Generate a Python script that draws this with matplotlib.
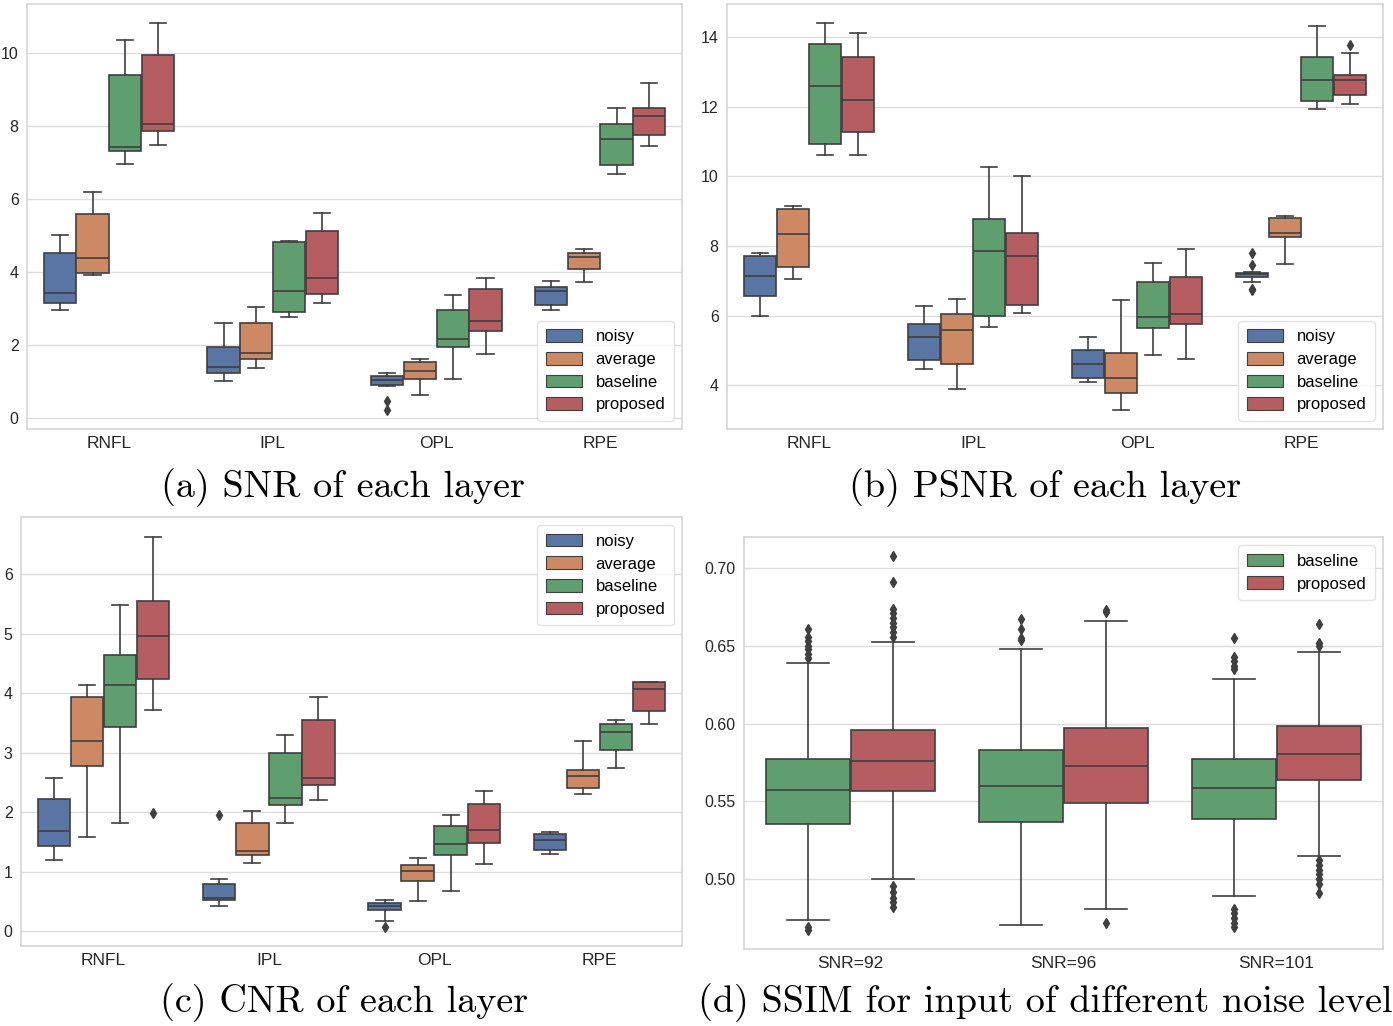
import colorsys
import matplotlib
matplotlib.use("Agg")
import matplotlib.pyplot as plt
import matplotlib.colors as mcolors
from matplotlib.patches import Patch

plt.rcParams['font.family'] = ['Liberation Sans', 'DejaVu Sans']

# ---- data ----
layers = ["RNFL", "IPL", "OPL", "RPE"]
methods = ["noisy", "average", "baseline", "proposed"]

# (a) SNR: per method, per layer: [whisker_low, q1, median, q3, whisker_high]
snr_noisy    = [[2.94, 3.14, 3.42, 4.51, 5.00], [1.00, 1.23, 1.39, 1.94, 2.60], [0.88, 0.90, 1.02, 1.15, 1.23], [2.96, 3.10, 3.47, 3.58, 3.74]]
snr_average  = [[3.90, 3.98, 4.37, 5.57, 6.18], [1.36, 1.62, 1.78, 2.60, 3.03], [0.61, 1.07, 1.27, 1.52, 1.62], [3.71, 4.07, 4.41, 4.51, 4.62]]
snr_baseline = [[6.96, 7.30, 7.43, 9.39, 10.35], [2.75, 2.89, 3.47, 4.82, 4.85], [1.05, 1.95, 2.16, 2.95, 3.37], [6.68, 6.93, 7.65, 8.04, 8.48]]
snr_proposed = [[7.48, 7.87, 8.05, 9.93, 10.81], [3.14, 3.40, 3.83, 5.11, 5.61], [1.75, 2.37, 2.65, 3.53, 3.82], [7.46, 7.74, 8.26, 8.48, 9.18]]
snr_fliers = {("noisy", 2): [0.47, 0.22]}

# (b) PSNR
psnr_noisy    = [[6.00, 6.58, 7.13, 7.72, 7.81], [4.47, 4.74, 5.38, 5.77, 6.29], [4.09, 4.22, 4.61, 5.01, 5.38], [6.96, 7.10, 7.20, 7.23, 7.25]]
psnr_average  = [[7.05, 7.39, 8.34, 9.07, 9.16], [3.89, 4.61, 5.59, 6.04, 6.49], [3.30, 3.79, 4.22, 4.93, 6.44], [7.48, 8.27, 8.39, 8.82, 8.87]]
psnr_baseline = [[10.62, 10.92, 12.60, 13.81, 14.40], [5.68, 6.00, 7.86, 8.77, 10.28], [4.86, 5.64, 5.96, 6.98, 7.52], [11.94, 12.17, 12.78, 13.44, 14.32]]
psnr_proposed = [[10.62, 11.29, 12.21, 13.44, 14.11], [6.09, 6.32, 7.72, 8.39, 10.00], [4.76, 5.77, 6.04, 7.10, 7.92], [12.08, 12.35, 12.78, 12.91, 13.54]]
psnr_fliers = {("noisy", 3): [7.79, 7.47, 6.78, 6.74], ("proposed", 3): [13.79]}

# (c) CNR
cnr_noisy    = [[1.19, 1.43, 1.69, 2.22, 2.58], [0.42, 0.52, 0.56, 0.80, 0.88], [0.18, 0.36, 0.42, 0.48, 0.53], [1.29, 1.36, 1.54, 1.63, 1.67]]
cnr_average  = [[1.58, 2.77, 3.19, 3.93, 4.13], [1.15, 1.28, 1.34, 1.82, 2.02], [0.50, 0.85, 1.01, 1.11, 1.23], [2.30, 2.40, 2.60, 2.71, 3.19]]
cnr_baseline = [[1.82, 3.43, 4.13, 4.64, 5.48], [1.81, 2.12, 2.24, 2.99, 3.29], [0.67, 1.28, 1.46, 1.77, 1.95], [2.75, 3.04, 3.34, 3.48, 3.55]]
cnr_proposed = [[3.72, 4.24, 4.96, 5.54, 6.63], [2.21, 2.45, 2.57, 3.55, 3.94], [1.13, 1.49, 1.70, 2.13, 2.35], [3.48, 3.70, 4.07, 4.18, 4.19]]
cnr_fliers = {("proposed", 0): [1.99], ("noisy", 1): [1.95], ("noisy", 2): [0.08]}

# (d) SSIM
snr_levels = ["SNR=92", "SNR=96", "SNR=101"]
ssim_methods = ["baseline", "proposed"]
ssim_baseline = [[0.4735, 0.5354, 0.557, 0.5775, 0.639], [0.4703, 0.5367, 0.560, 0.583, 0.648], [0.489, 0.5386, 0.5585, 0.5775, 0.6286]]
ssim_proposed = [[0.500, 0.5566, 0.5756, 0.596, 0.6528], [0.481, 0.549, 0.573, 0.597, 0.666], [0.515, 0.564, 0.5807, 0.5987, 0.646]]
ssim_fliers = {
    ("baseline", 0): [0.661, 0.656, 0.653, 0.650, 0.648, 0.645, 0.642, 0.469, 0.467],
    ("proposed", 0): [0.708, 0.691, 0.674, 0.671, 0.668, 0.665, 0.662, 0.659, 0.656,
                      0.4953, 0.4915, 0.488, 0.485, 0.482],
    ("baseline", 1): [0.667, 0.661, 0.655, 0.654],
    ("proposed", 1): [0.673, 0.672, 0.472],
    ("baseline", 2): [0.655, 0.643, 0.640, 0.637, 0.635, 0.481, 0.478, 0.475, 0.472, 0.469],
    ("proposed", 2): [0.664, 0.652, 0.650, 0.512, 0.509, 0.506, 0.503, 0.500, 0.497, 0.491],
}

# ---- style ----
def desat(hex_color, prop=0.75):
    r, g, b = mcolors.to_rgb(hex_color)
    h, l, s = colorsys.rgb_to_hls(r, g, b)
    return colorsys.hls_to_rgb(h, l, s * prop)

palette = {"noisy": desat("#4C72B0"), "average": desat("#DD8452"),
           "baseline": desat("#55A868"), "proposed": desat("#C44E52")}
edge = "#3f3f3f"
lw = 1.2


def draw_panel(ax, cats, hues, series, fliers, legend_loc):
    n = len(hues)
    w = 0.8 / n
    for j, hue in enumerate(hues):
        stats = []
        pos = []
        for i, c in enumerate(cats):
            lo, q1, med, q3, hi = series[j][i]
            stats.append(dict(whislo=lo, q1=q1, med=med, q3=q3, whishi=hi,
                              fliers=fliers.get((hue, i), [])))
            pos.append(i - 0.4 + w * (j + 0.5))
        ax.bxp(stats, positions=pos, widths=w * 0.98, patch_artist=True, showfliers=True,
               boxprops=dict(facecolor=palette[hue], edgecolor=edge, linewidth=lw),
               medianprops=dict(color=edge, linewidth=lw),
               whiskerprops=dict(color=edge, linewidth=lw),
               capprops=dict(color=edge, linewidth=lw),
               flierprops=dict(marker='d', markerfacecolor=edge, markeredgecolor=edge,
                               markersize=5, linestyle='none'))
    ax.set_xlim(-0.5, len(cats) - 0.5)
    ax.set_xticks(range(len(cats)))
    ax.set_xticklabels(cats)
    ax.set_facecolor("white")
    ax.yaxis.grid(True, color="#dddddd", linewidth=1)
    ax.xaxis.grid(False)
    ax.set_axisbelow(True)
    for s in ax.spines.values():
        s.set_color("#d5d5d5")
        s.set_linewidth(1.2)
    ax.tick_params(length=0, labelcolor="#262626")
    ax.tick_params(axis='x', labelsize=12.5, pad=5)
    ax.tick_params(axis='y', labelsize=11.5, pad=6)
    handles = [Patch(facecolor=palette[h], edgecolor=edge, linewidth=0.8, label=h) for h in hues]
    leg = ax.legend(handles=handles, loc=legend_loc, fontsize=12, frameon=True,
                    handlelength=2.2, handleheight=0.8, labelspacing=0.45, borderpad=0.5)
    leg.get_frame().set_edgecolor("#dddddd")


fig = plt.figure(figsize=(13.93, 10.26), dpi=100)
W, H = 1393, 1026


def add_ax(l, t, r, b):
    return fig.add_axes([l / W, 1 - b / H, (r - l) / W, (b - t) / H])


ax_a = add_ax(27, 4, 682, 429)
ax_b = add_ax(727, 4, 1383, 429)
ax_c = add_ax(21, 517, 682, 946)
ax_d = add_ax(744, 537, 1383, 949)

draw_panel(ax_a, layers, methods, [snr_noisy, snr_average, snr_baseline, snr_proposed], snr_fliers, "lower right")
draw_panel(ax_b, layers, methods, [psnr_noisy, psnr_average, psnr_baseline, psnr_proposed], psnr_fliers, "lower right")
draw_panel(ax_c, layers, methods, [cnr_noisy, cnr_average, cnr_baseline, cnr_proposed], cnr_fliers, "upper right")
draw_panel(ax_d, snr_levels, ssim_methods, [ssim_baseline, ssim_proposed], ssim_fliers, "upper right")

ax_a.set_yticks([0, 2, 4, 6, 8, 10])
ax_b.set_yticks([4, 6, 8, 10, 12, 14])
ax_c.set_yticks([0, 1, 2, 3, 4, 5, 6])
ax_d.set_yticks([0.50, 0.55, 0.60, 0.65, 0.70])
ax_d.set_yticklabels(["0.50", "0.55", "0.60", "0.65", "0.70"])

cap = dict(fontsize=27.5, family="cmr10", ha="center", va="center")
fig.text(343 / W, 1 - 488 / H, "(a) SNR of each layer", **cap)
fig.text(1045 / W, 1 - 488 / H, "(b) PSNR of each layer", **cap)
fig.text(344 / W, 1 - 1003 / H, "(c) CNR of each layer", **cap)
fig.text(1045 / W, 1 - 1003 / H, "(d) SSIM for input of different noise level", **cap)

fig.savefig("out.png", dpi=100, facecolor="white")
